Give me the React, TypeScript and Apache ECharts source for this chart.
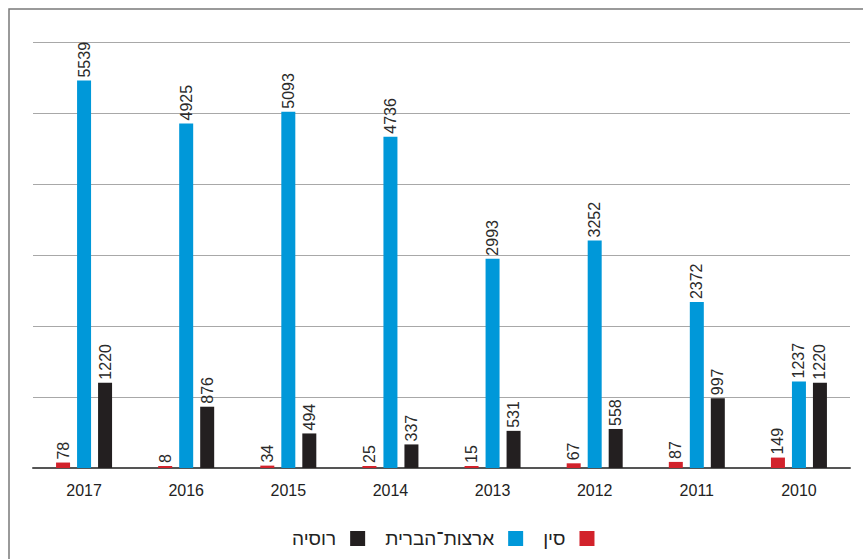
import React, { useEffect, useRef } from "react";
import * as echarts from "echarts";

const years = ["2017", "2016", "2015", "2014", "2013", "2012", "2011", "2010"];
const china = [78, 8, 34, 25, 15, 67, 87, 149];
const usa = [5539, 4925, 5093, 4736, 2993, 3252, 2372, 1237];
const russia = [1220, 876, 494, 337, 531, 558, 997, 1220];
const legendOrder = ["רוסיה", "ארצות־הברית", "סין"];

const FONT = "'Liberation Sans', Arial, sans-serif";

export default function App() {
  const ref = useRef<HTMLDivElement>(null);
  useEffect(() => {
    if (!ref.current) return;
    const chart = echarts.init(ref.current, null, { renderer: "svg" });
    const label = {
      show: true,
      position: "top" as const,
      rotate: 90,
      align: "left" as const,
      verticalAlign: "middle" as const,
      distance: 3,
      color: "#2a2a2a",
      fontSize: 16,
      fontFamily: FONT,
    };
    const mk = (name: string, data: number[], color: string) => ({
      name,
      type: "bar" as const,
      data,
      barWidth: 14,
      barGap: "50%",
      barMinHeight: 2,
      itemStyle: { color },
      label,
    });
    chart.setOption({
      animation: false,
      textStyle: { fontFamily: FONT },
      grid: { left: 33, right: 13, top: 42, bottom: 91 },
      graphic: [
        {
          type: "rect",
          shape: { x: 9, y: 9, width: 900, height: 600 },
          style: { fill: "none", stroke: "#7a7a7a", lineWidth: 1.5 },
          silent: true,
        },
      ],
      legend: {
        data: legendOrder,
        top: 524,
        left: 287,
        align: "right",
        itemWidth: 15,
        itemHeight: 15,
        itemGap: 20,
        icon: "rect",
        textStyle: { fontSize: 19, color: "#222", fontFamily: FONT, padding: [0, 9, 0, 0] },
      },
      xAxis: {
        type: "category",
        data: years,
        axisLine: { show: true, lineStyle: { color: "#555", width: 2 } },
        axisTick: { show: false },
        axisLabel: { fontSize: 16, color: "#222", margin: 14, fontFamily: FONT },
      },
      yAxis: {
        type: "value",
        min: 0,
        max: 6090,
        interval: 1015,
        axisLabel: { show: false },
        axisLine: { show: false },
        axisTick: { show: false },
        splitLine: { lineStyle: { color: "#a8a8a8", width: 1.2 } },
      },
      series: [
        mk("סין", china, "#d2222b"),
        mk("ארצות־הברית", usa, "#0098d9"),
        mk("רוסיה", russia, "#231f20"),
      ],
    });
    return () => chart.dispose();
  }, []);
  return (
    <div
      ref={ref}
      style={{ position: "fixed", left: 0, top: 0, width: 863, height: 559, background: "#fff" }}
    />
  );
}
